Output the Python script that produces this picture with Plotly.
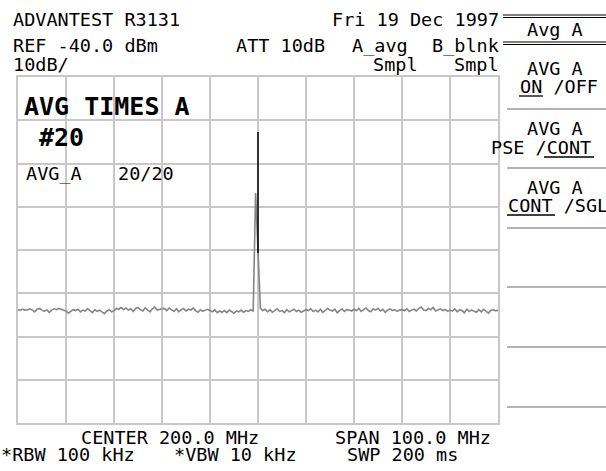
import plotly.graph_objects as go

# ---------------- data ----------------
freq_start_mhz = 150.0
freq_step_mhz = 0.5
trace_a_dbm = [
    -93.8, -93.9, -93.7, -93.9, -93.8, -93.6, -93.9, -94.3, -93.7, -93.5, -93.9, -94.2, -93.8, -94.4, -93.9, -93.6, -93.8, -93.5, -93.7, -93.9,
    -94.1, -94.6, -94.2, -93.8, -94.0, -93.7, -94.3, -93.9, -94.1, -93.6, -94.0, -94.5, -93.8, -94.2, -93.9, -94.4, -94.7, -94.1, -93.8, -94.3,
    -94.0, -93.5, -93.7, -93.3, -93.8, -93.4, -93.9, -93.6, -94.2, -93.5, -93.3, -93.8, -94.1, -93.4, -93.9, -94.3, -93.6, -93.2, -93.9, -93.7,
    -93.6, -93.5, -94.0, -93.4, -93.9, -94.2, -93.6, -94.3, -93.8, -93.5, -94.1, -93.7, -93.9, -93.4, -94.0, -94.4, -93.8, -94.2, -93.9, -93.7,
    -94.0, -94.3, -93.8, -94.5, -94.1, -94.4, -94.0, -94.5, -93.9, -94.2, -94.6, -94.1, -94.3, -93.9, -94.4, -94.0, -94.2, -93.8, -94.1, -66.8,
    -80.5, -93.5, -94.0, -93.7, -94.3, -93.8, -94.4, -93.9, -93.6, -94.2, -94.0, -94.5, -93.8, -94.3, -94.0, -93.7, -94.2, -93.9, -94.4, -94.1,
    -93.8, -94.0, -93.6, -94.2, -93.9, -94.3, -93.7, -94.4, -94.0, -93.5, -93.9, -94.1, -93.7, -94.5, -94.0, -93.6, -94.2, -93.8, -93.9, -94.1,
    -93.7, -94.0, -93.5, -94.2, -93.8, -93.4, -94.0, -94.3, -93.6, -93.9, -93.5, -94.1, -93.7, -94.4, -93.9, -93.6, -94.0, -93.8, -94.2, -93.9,
    -93.8, -94.0, -93.6, -94.2, -93.9, -93.7, -94.1, -93.5, -93.2, -93.9, -94.0, -93.5, -93.8, -93.3, -94.1, -93.9, -93.6, -94.0, -93.8, -94.2,
    -93.9, -94.1, -93.6, -94.3, -93.8, -94.0, -94.5, -93.7, -94.2, -93.9, -94.1, -94.4, -93.8, -94.3, -93.7, -94.2, -94.6, -94.0, -93.8, -94.1,
    -93.9,
]
freqs_mhz = [freq_start_mhz + i * freq_step_mhz for i in range(len(trace_a_dbm))]

peak_freq_mhz = [200.0, 200.0]
peak_level_dbm = [-52.7, -80.7]

center_mhz = 200.0
span_mhz = 100.0
ref_dbm = -40.0
db_per_div = 10
n_vdiv = 8

# ---------------- layout geometry (pixels) ----------------
W, H = 606, 471
L, R, T, B = 18, 498, 77, 423


def px(x):
    return (x - L) / (R - L)


def py(y):
    return (B - y) / (B - T)


GRID = "#c8c8c8"
FONT = "DejaVu Sans Mono"
FS = 18.5

fig = go.Figure()
fig.add_trace(go.Scatter(x=freqs_mhz, y=trace_a_dbm, mode="lines",
                         line=dict(color="#858585", width=1.6), hoverinfo="skip"))
fig.add_trace(go.Scatter(x=peak_freq_mhz, y=peak_level_dbm, mode="lines",
                         line=dict(color="#000000", width=1.5), hoverinfo="skip"))

fig.update_xaxes(range=[center_mhz - span_mhz / 2, center_mhz + span_mhz / 2],
                 dtick=span_mhz / 10, tick0=center_mhz - span_mhz / 2,
                 showgrid=True, gridcolor=GRID, gridwidth=2,
                 showline=True, linecolor=GRID, linewidth=2, mirror=True,
                 showticklabels=False, ticks="", zeroline=False)
fig.update_yaxes(range=[ref_dbm - db_per_div * n_vdiv, ref_dbm],
                 dtick=db_per_div, tick0=ref_dbm,
                 showgrid=True, gridcolor=GRID, gridwidth=2,
                 showline=True, linecolor=GRID, linewidth=2, mirror=True,
                 showticklabels=False, ticks="", zeroline=False)

annotations = []


def text(t, x, y, anchor="left", size=FS, bold=False):
    s = f"<b>{t}</b>" if bold else t
    annotations.append(dict(text=s, x=px(x), y=py(y), xref="paper", yref="paper",
                            xanchor=anchor, yanchor="middle", showarrow=False,
                            borderpad=0,
                            font=dict(family=FONT, size=size, color="black")))


# header
text("ADVANTEST R3131", 12, 20)
text("Fri 19 Dec 1997", 500, 20, anchor="right")
text("REF -40.0 dBm", 12, 46)
text("ATT 10dB", 235, 46)
text("A_avg", 351, 46)
text("B_blnk", 500, 46, anchor="right")
text("10dB/", 12, 64)
text("Smpl", 372, 64)
text("Smpl", 500, 64, anchor="right")

# overlay in graticule
text("AVG TIMES A", 23, 106, size=25, bold=True)
text("#20", 38, 137, size=25, bold=True)
text("AVG_A", 25, 173)
text("20/20", 117, 173)

# footer
text("CENTER 200.0 MHz", 80, 437)
text("SPAN 100.0 MHz", 334, 437)
text("*RBW 100 kHz", 0, 454)
text("*VBW 10 kHz", 173, 454)
text("SWP 200 ms", 346, 454)

# softkeys
text("Avg A", 555, 29, anchor="center")
text("AVG A", 555, 68, anchor="center")
text("ON /OFF", 519, 86)
text("AVG A", 555, 128, anchor="center")
text("PSE /CONT", 490, 147)
text("AVG A", 555, 187, anchor="center")
text("CONT /SGL", 507, 206)

shapes = []


def hline(x0, x1, y, color="black", width=1):
    shapes.append(dict(type="line", xref="paper", yref="paper",
                       x0=px(x0), x1=px(x1), y0=py(y), y1=py(y),
                       line=dict(color=color, width=width)))


# double rules around title softkey
for yy in (15, 17.5, 42, 44.5):
    hline(503, 607, yy, width=1.2)
# separators
for yy in (109, 168, 228, 287, 347, 407):
    hline(507, 607, yy, color="#9a9a9a", width=1.5)
# underlines of selected options
hline(519, 543, 96, width=1.3)
hline(544, 594, 157, width=1.3)
hline(507, 555, 215, width=1.3)

fig.update_layout(width=W, height=H, margin=dict(l=L, r=W - R, t=T, b=H - B),
                  paper_bgcolor="white", plot_bgcolor="white", showlegend=False,
                  annotations=annotations, shapes=shapes)

fig.write_html("out.html", config={"displayModeBar": False, "staticPlot": True},
               post_script="document.body.style.margin='0';")
